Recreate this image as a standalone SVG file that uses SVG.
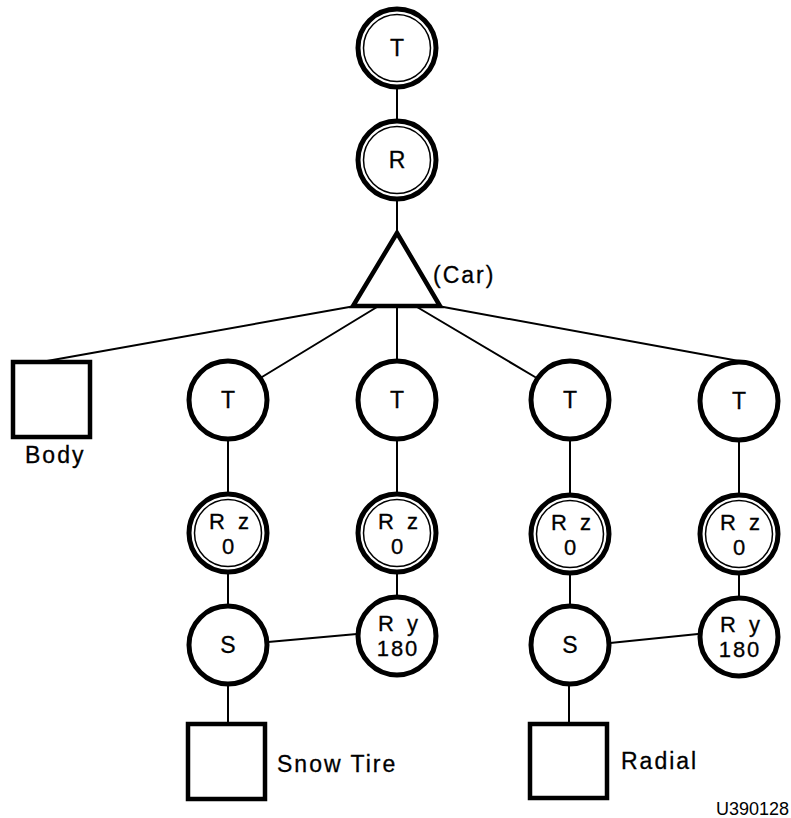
<svg xmlns="http://www.w3.org/2000/svg" width="791" height="818" viewBox="0 0 791 818">
<style>
  .bg { fill: #ffffff; }
  .edge { stroke: #000; stroke-width: 2; fill: none; stroke-linecap: round; }
  .ring { fill: #fff; stroke: #000; stroke-width: 5; }
  .inner { fill: none; stroke: #000; stroke-width: 1.5; }
  .box { fill: #fff; stroke: #000; stroke-width: 4.5; }
  .tri { fill: #fff; stroke: #000; stroke-width: 4.5; stroke-linejoin: miter; }
  .lbl { font-family: "Liberation Sans", Arial, sans-serif; font-size: 23px; letter-spacing: 2px; fill: #000; stroke: #000; stroke-width: 0.3; }
  .sm { font-size: 22px; }
  .mid { text-anchor: middle; }
  .two { word-spacing: 3px; }
  .code { font-family: "Liberation Sans", Arial, sans-serif; font-size: 18px; fill: #000; }
</style>
<rect class="bg" x="0" y="0" width="791" height="818"/>
<g id="connectors">
  <line class="edge" x1="397" y1="88" x2="397" y2="120"/>
  <line class="edge" x1="397" y1="200" x2="397" y2="234"/>
  <line class="edge" x1="355" y1="306" x2="47" y2="361"/>
  <line class="edge" x1="377" y1="307" x2="262" y2="377"/>
  <line class="edge" x1="397" y1="307" x2="397" y2="361"/>
  <line class="edge" x1="417" y1="307" x2="535" y2="377"/>
  <line class="edge" x1="438" y1="306" x2="739" y2="361"/>
  <line class="edge" x1="228" y1="440" x2="228" y2="493"/>
  <line class="edge" x1="228" y1="573" x2="228" y2="606"/>
  <line class="edge" x1="228" y1="684" x2="228" y2="723"/>
  <line class="edge" x1="397" y1="440" x2="397" y2="494"/>
  <line class="edge" x1="397" y1="573" x2="397" y2="597"/>
  <line class="edge" x1="268" y1="642" x2="357" y2="634"/>
  <line class="edge" x1="570" y1="440" x2="570" y2="495"/>
  <line class="edge" x1="570" y1="573" x2="570" y2="606"/>
  <line class="edge" x1="569" y1="684" x2="569" y2="723"/>
  <line class="edge" x1="739" y1="441" x2="739" y2="495"/>
  <line class="edge" x1="739" y1="573" x2="739" y2="597"/>
  <line class="edge" x1="610" y1="643" x2="698" y2="634"/>
</g>
<g id="topT">
  <circle class="ring" cx="397" cy="48" r="39"/>
  <circle class="inner" cx="397" cy="48" r="33.5"/>
  <text class="lbl mid" x="398" y="56">T</text>
</g>
<g id="topR">
  <circle class="ring" cx="397" cy="160" r="39"/>
  <circle class="inner" cx="397" cy="160" r="33.5"/>
  <text class="lbl mid" x="398" y="168">R</text>
</g>
<g id="car">
  <polygon class="tri" points="397,233 353,306 440,306"/>
  <text class="lbl" x="433" y="283">(Car)</text>
</g>
<g id="body">
  <rect class="box" x="13" y="362" width="77" height="75"/>
  <text class="lbl" x="25" y="463">Body</text>
</g>
<g id="T1">
  <circle class="ring" cx="228" cy="400" r="39"/>
  <text class="lbl mid" x="229" y="408">T</text>
</g>
<g id="T2">
  <circle class="ring" cx="397" cy="400" r="39"/>
  <text class="lbl mid" x="398" y="408">T</text>
</g>
<g id="T3">
  <circle class="ring" cx="570" cy="400" r="39"/>
  <text class="lbl mid" x="571" y="408">T</text>
</g>
<g id="T4">
  <circle class="ring" cx="739" cy="401" r="39"/>
  <text class="lbl mid" x="740" y="409">T</text>
</g>
<g id="Rz1">
  <circle class="ring" cx="228" cy="533" r="39"/>
  <circle class="inner" cx="228" cy="533" r="33.5"/>
  <text class="lbl sm mid two" x="230" y="529">R z</text>
  <text class="lbl sm mid" x="229" y="554">0</text>
</g>
<g id="Rz2">
  <circle class="ring" cx="397" cy="533" r="39"/>
  <circle class="inner" cx="397" cy="533" r="33.5"/>
  <text class="lbl sm mid two" x="399" y="529">R z</text>
  <text class="lbl sm mid" x="398" y="554">0</text>
</g>
<g id="Rz3">
  <circle class="ring" cx="570" cy="534" r="39"/>
  <circle class="inner" cx="570" cy="534" r="33.5"/>
  <text class="lbl sm mid two" x="572" y="530">R z</text>
  <text class="lbl sm mid" x="571" y="555">0</text>
</g>
<g id="Rz4">
  <circle class="ring" cx="739" cy="534" r="39"/>
  <circle class="inner" cx="739" cy="534" r="33.5"/>
  <text class="lbl sm mid two" x="741" y="530">R z</text>
  <text class="lbl sm mid" x="740" y="555">0</text>
</g>
<g id="S1">
  <circle class="ring" cx="228" cy="645" r="39"/>
  <text class="lbl mid" x="229" y="653">S</text>
</g>
<g id="Ry2">
  <circle class="ring" cx="397" cy="636" r="39"/>
  <text class="lbl sm mid two" x="399" y="631">R y</text>
  <text class="lbl sm mid" x="398" y="656">180</text>
</g>
<g id="S3">
  <circle class="ring" cx="570" cy="645" r="39"/>
  <text class="lbl mid" x="571" y="653">S</text>
</g>
<g id="Ry4">
  <circle class="ring" cx="739" cy="637" r="39"/>
  <text class="lbl sm mid two" x="741" y="632">R y</text>
  <text class="lbl sm mid" x="740" y="657">180</text>
</g>
<g id="snowtire">
  <rect class="box" x="188" y="724" width="77" height="75"/>
  <text class="lbl" x="277" y="772">Snow Tire</text>
</g>
<g id="radial">
  <rect class="box" x="530" y="724" width="77" height="74"/>
  <text class="lbl" x="621" y="769">Radial</text>
</g>
<text class="code" x="716" y="815">U390128</text>
</svg>
